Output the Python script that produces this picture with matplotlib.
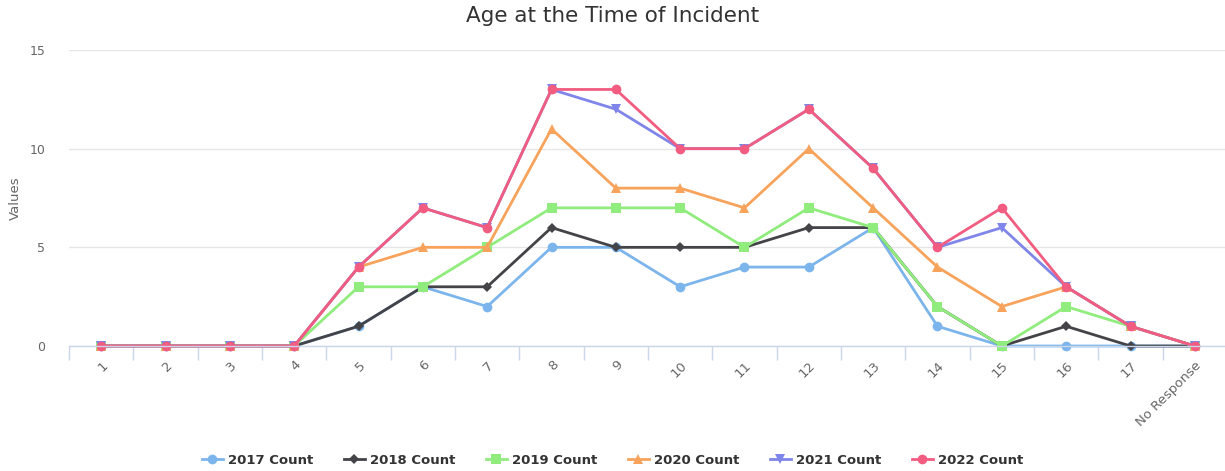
import matplotlib
matplotlib.use("Agg")
import matplotlib.pyplot as plt
import numpy as np

categories = ["1", "2", "3", "4", "5", "6", "7", "8", "9", "10", "11", "12",
              "13", "14", "15", "16", "17", "No Response"]
s2017 = [0, 0, 0, 0, 1, 3, 2, 5, 5, 3, 4, 4, 6, 1, 0, 0, 0, 0]
s2018 = [0, 0, 0, 0, 1, 3, 3, 6, 5, 5, 5, 6, 6, 2, 0, 1, 0, 0]
s2019 = [0, 0, 0, 0, 3, 3, 5, 7, 7, 7, 5, 7, 6, 2, 0, 2, 1, 0]
s2020 = [0, 0, 0, 0, 4, 5, 5, 11, 8, 8, 7, 10, 7, 4, 2, 3, 1, 0]
s2021 = [0, 0, 0, 0, 4, 7, 6, 13, 12, 10, 10, 12, 9, 5, 6, 3, 1, 0]
s2022 = [0, 0, 0, 0, 4, 7, 6, 13, 13, 10, 10, 12, 9, 5, 7, 3, 1, 0]
series_names = ["2017 Count", "2018 Count", "2019 Count", "2020 Count", "2021 Count", "2022 Count"]
yticks = [0, 5, 10, 15]

colors = ["#7cb5ec", "#434348", "#90ed7d", "#f7a35c", "#8085e9", "#f15c80"]
markers = ["o", "D", "s", "^", "v", "o"]
msizes = [7, 5, 6.5, 7, 7, 7]

W, H = 1225, 471
fig = plt.figure(figsize=(W / 100, H / 100), dpi=100)
left, right, top, bottom = 69, 1227, 50, 346
ax = fig.add_axes([left / W, (H - bottom) / H, (right - left) / W, (bottom - top) / H])

x = np.arange(len(categories))
data = [s2017, s2018, s2019, s2020, s2021, s2022]
handles = []
for vals, name, c, m, ms in zip(data, series_names, colors, markers, msizes):
    h, = ax.plot(x, vals, color=c, marker=m, markersize=ms, linewidth=2,
                 markeredgewidth=0, label=name, clip_on=False)
    handles.append(h)

ax.set_xlim(-0.5, len(categories) - 0.5)
ax.set_ylim(0, 15)
ax.set_yticks(yticks)
ax.yaxis.grid(True, color="#e6e6e6", linewidth=1)
ax.set_axisbelow(True)
for s in ["top", "right", "left"]:
    ax.spines[s].set_visible(False)
ax.spines["bottom"].set_color("#ccd6eb")
ax.spines["bottom"].set_linewidth(1)

ax.tick_params(axis="y", length=0, labelsize=9, labelcolor="#666666", pad=17)
ax.set_xticks(x)
ax.set_xticklabels(categories, rotation=45, ha="right", rotation_mode="anchor",
                   fontsize=9.5, color="#666666")
ax.tick_params(axis="x", which="major", length=0, pad=9)
ax.set_xticks(np.arange(-0.5, len(categories) + 0.5, 1), minor=True)
ax.tick_params(axis="x", which="minor", length=10, color="#ccd6eb", width=1)

fig.text(15 / W, 1 - 198 / H, "Values", rotation=90, ha="center", va="center",
         fontsize=9.5, color="#666666")
fig.text(0.5, 1 - 16 / H, "Age at the Time of Incident", ha="center", va="center",
         fontsize=15.5, color="#333333")

leg = fig.legend(handles=handles, loc="center", bbox_to_anchor=(0.5, 1 - 460 / H),
                 ncol=6, frameon=False, handlelength=1.6, handletextpad=0.4,
                 columnspacing=2.3, prop={"weight": "bold", "size": 9.5})
for t in leg.get_texts():
    t.set_color("#333333")

fig.savefig("out.png", dpi=100)
